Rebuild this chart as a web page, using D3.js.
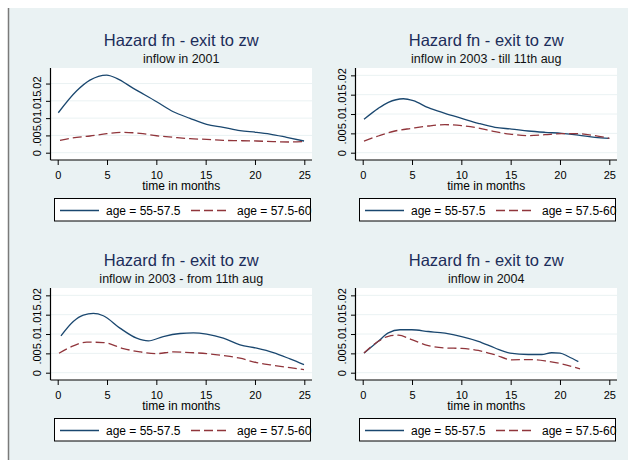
<!DOCTYPE html>
<html>
<head>
<meta charset="utf-8">
<script src="https://cdn.jsdelivr.net/npm/d3@7/dist/d3.min.js"></script>
<style>
  html, body { margin: 0; padding: 0; background: #ffffff; }
  svg { display: block; font-family: "Liberation Sans", Arial, sans-serif; }
</style>
</head>
<body>
<svg id="chart" width="628" height="460"></svg>
<script>
// Panel headings
const mainTitle = "Hazard fn - exit to zw";
const subTitles = ["inflow in 2001", "inflow in 2003 - till 11th aug", "inflow in 2003 - from 11th aug", "inflow in 2004"];
const seriesNames = ["age = 55-57.5", "age = 57.5-60"];
const xTicks = [0, 5, 10, 15, 20, 25];
const yTicks = [0, 0.005, 0.01, 0.015, 0.02];
const xTitle = "time in months";

// inflow in 2001
const t2001Young = [0.06, 1.93, 3.27, 4.97, 5.98, 7.67, 10.03, 11.72, 13.41, 15.1, 16.79, 18.48, 20.17, 21.52, 23.21, 24.97];
const h2001Young = [0.01156, 0.01792, 0.0210, 0.02246, 0.0215, 0.01861, 0.01474, 0.01185, 0.00994, 0.00821, 0.00734, 0.00636, 0.0059, 0.0054, 0.00445, 0.00338];
const t2001Old = [0.23, 1.93, 3.27, 4.97, 6.65, 8.34, 10.03, 11.72, 13.41, 15.1, 16.79, 18.48, 20.17, 21.86, 23.55, 24.97];
const h2001Old = [0.00358, 0.00445, 0.00483, 0.0055, 0.0059, 0.0056, 0.0049, 0.00445, 0.00405, 0.00387, 0.00358, 0.00347, 0.00338, 0.0032, 0.0031, 0.0032];

// inflow in 2003, till 11th aug
const t2003aYoung = [0.13, 1.58, 2.6, 4.12, 5.13, 6.65, 8.34, 10.03, 11.72, 13.41, 15.1, 16.79, 18.48, 20.17, 21.86, 23.55, 25];
const h2003aYoung = [0.00863, 0.01147, 0.01302, 0.01395, 0.01344, 0.01163, 0.01018, 0.00889, 0.0076, 0.00656, 0.00612, 0.00561, 0.00527, 0.00501, 0.00457, 0.00398, 0.00372];
const t2003aOld = [0.13, 1.58, 3.27, 4.97, 6.65, 8.34, 10.03, 11.72, 13.41, 15.1, 16.79, 18.48, 20.17, 21.86, 23.55, 25];
const h2003aOld = [0.00302, 0.00432, 0.00561, 0.0063, 0.0069, 0.00724, 0.00698, 0.00638, 0.00543, 0.00475, 0.0044, 0.00465, 0.00491, 0.00491, 0.0044, 0.00372];

// inflow in 2003, from 11th aug
const t2003bYoung = [0.33, 1.58, 2.6, 3.61, 4.62, 6.31, 8.0, 9.19, 10.7, 12.4, 13.75, 15.1, 16.79, 18.48, 20.17, 21.86, 23.55, 24.97];
const h2003bYoung = [0.00953, 0.01325, 0.0149, 0.01532, 0.01473, 0.01153, 0.00893, 0.00823, 0.00935, 0.01013, 0.0103, 0.00997, 0.00893, 0.0072, 0.00634, 0.0052, 0.00356, 0.00208];
const t2003bOld = [0.13, 1.58, 2.94, 4.62, 6.65, 8.34, 10.03, 11.72, 13.41, 15.1, 16.79, 18.48, 20.17, 21.86, 23.55, 24.97];
const h2003bOld = [0.00504, 0.00694, 0.0079, 0.0078, 0.00624, 0.00538, 0.00494, 0.00538, 0.0052, 0.00494, 0.00442, 0.00374, 0.0026, 0.00192, 0.0013, 0.00078];

// inflow in 2004
const t2004Young = [0.13, 1.58, 2.6, 3.78, 4.97, 6.65, 8.34, 10.03, 11.72, 13.41, 14.93, 16.79, 18.14, 19.16, 20.0, 20.84, 21.86];
const h2004Young = [0.00508, 0.00812, 0.01031, 0.0111, 0.0111, 0.01065, 0.01021, 0.00935, 0.00812, 0.00639, 0.00508, 0.00471, 0.00471, 0.00516, 0.00508, 0.00419, 0.00288];
const t2004Old = [0.13, 1.58, 2.6, 3.61, 4.97, 6.65, 8.34, 10.03, 11.72, 13.41, 15.1, 16.79, 18.48, 20.17, 22.03];
const h2004Old = [0.00508, 0.00812, 0.00942, 0.00969, 0.00856, 0.00699, 0.00639, 0.00628, 0.00576, 0.00463, 0.00332, 0.0034, 0.00306, 0.00228, 0.00097];

// upper end of each panel's y range
const yTops = [0.0245, 0.0219, 0.0219, 0.0219];

const panels = [
  { sub: subTitles[0], young: [t2001Young, h2001Young], old: [t2001Old, h2001Old] },
  { sub: subTitles[1], young: [t2003aYoung, h2003aYoung], old: [t2003aOld, h2003aOld] },
  { sub: subTitles[2], young: [t2003bYoung, h2003bYoung], old: [t2003bOld, h2003bOld] },
  { sub: subTitles[3], young: [t2004Young, h2004Young], old: [t2004Old, h2004Old] }
];

const colors = ["#1a476f", "#90353b"];
const bg = "#eaf2f3";

const svg = d3.select("#chart");

// graph region
svg.append("rect").attr("x", 9).attr("y", 8).attr("width", 619).attr("height", 452).attr("fill", bg);
svg.append("line").attr("x1", 8.5).attr("x2", 8.5).attr("y1", 8).attr("y2", 460)
  .attr("stroke", "#7a7a7a").attr("stroke-width", 1.5);

const origins = [[0, 0], [305, 0], [0, 220], [305, 220]];
const plotL = 50.5, plotR = 312, plotT = 68, plotB = 160;

panels.forEach((p, i) => {
  const g = svg.append("g").attr("transform", `translate(${origins[i][0]},${origins[i][1]})`);
  const x = d3.scaleLinear().domain([0, 25]).range([57.7, 304.3]);
  const y = d3.scaleLinear().domain([0, yTops[i]]).range([152.7, plotT]);
  const cx = (plotL + plotR) / 2;

  g.append("text").attr("x", cx).attr("y", 45.5).attr("text-anchor", "middle")
    .attr("font-size", 16.5).attr("fill", "#1c2d5a").text(mainTitle);
  g.append("text").attr("x", cx).attr("y", 63).attr("text-anchor", "middle")
    .attr("font-size", 12.5).attr("fill", "#111").text(p.sub);

  // plot region
  g.append("rect").attr("x", plotL).attr("y", plotT).attr("width", plotR - plotL).attr("height", plotB - plotT)
    .attr("fill", "#ffffff");
  g.selectAll("line.grid").data(yTicks).join("line").attr("class", "grid")
    .attr("x1", plotL).attr("x2", plotR).attr("y1", d => y(d)).attr("y2", d => y(d))
    .attr("stroke", bg).attr("stroke-width", 1);

  // series
  const line = d3.line().x(d => x(d[0])).y(d => y(d[1])).curve(d3.curveMonotoneX);
  [p.young, p.old].forEach((s, k) => {
    const pts = d3.zip(s[0], s[1]);
    g.append("path").datum(pts).attr("d", line).attr("fill", "none")
      .attr("stroke", colors[k]).attr("stroke-width", 1.3)
      .attr("stroke-dasharray", k === 1 ? "9,4" : null);
  });

  // axes
  const xAxis = g.append("g").attr("transform", `translate(0,${plotB})`)
    .call(d3.axisBottom(x).tickValues(xTicks).tickSize(5).tickSizeOuter(0).tickFormat(d3.format("d")));
  xAxis.select(".domain").remove();
  xAxis.selectAll(".tick line").attr("stroke", "#000");
  xAxis.selectAll(".tick text").attr("y", 18.5).attr("dy", 0).attr("font-size", 11)
    .attr("fill", "#000").attr("font-family", "Liberation Sans, Arial, sans-serif");

  const fmt = d => d === 0 ? "0" : d3.format(".3~f")(d).replace(/^0/, "");
  const yAxis = g.append("g").attr("transform", `translate(${plotL},0)`)
    .call(d3.axisLeft(y).tickValues(yTicks).tickSize(4.5).tickSizeOuter(0).tickFormat(fmt));
  yAxis.select(".domain").remove();
  yAxis.selectAll(".tick line").attr("stroke", "#000");
  yAxis.selectAll(".tick text").attr("transform", "rotate(-90)").attr("x", 0).attr("y", -9.8)
    .attr("dy", 0).attr("text-anchor", "middle").attr("font-size", 11).attr("fill", "#000")
    .attr("font-family", "Liberation Sans, Arial, sans-serif");

  g.append("line").attr("x1", plotL).attr("x2", plotL).attr("y1", plotT).attr("y2", plotB)
    .attr("stroke", "#000").attr("stroke-width", 1.2);
  g.append("line").attr("x1", plotL).attr("x2", plotR).attr("y1", plotB).attr("y2", plotB)
    .attr("stroke", "#000").attr("stroke-width", 1.2);

  g.append("text").attr("x", cx).attr("y", 190).attr("text-anchor", "middle")
    .attr("font-size", 12).attr("fill", "#000").text(xTitle);

  // legend
  const lg = g.append("g");
  lg.append("rect").attr("x", 54.5).attr("y", 198.5).attr("width", 256).attr("height", 22.5).attr("fill", "#fff");
  lg.append("line").attr("x1", 60).attr("x2", 99).attr("y1", 210.5).attr("y2", 210.5)
    .attr("stroke", colors[0]).attr("stroke-width", 1.3);
  lg.append("text").attr("x", 106).attr("y", 214.8).attr("font-size", 12).attr("fill", "#000").text(seriesNames[0]);
  lg.append("line").attr("x1", 191).attr("x2", 228).attr("y1", 210.5).attr("y2", 210.5)
    .attr("stroke", colors[1]).attr("stroke-width", 1.3).attr("stroke-dasharray", "9,4");
  lg.append("text").attr("x", 237).attr("y", 214.8).attr("font-size", 12).attr("fill", "#000").text(seriesNames[1]);
  lg.append("rect").attr("x", 54.5).attr("y", 198.5).attr("width", 256).attr("height", 22.5)
    .attr("fill", "none").attr("stroke", "#000").attr("stroke-width", 1);
});
</script>
</body>
</html>
